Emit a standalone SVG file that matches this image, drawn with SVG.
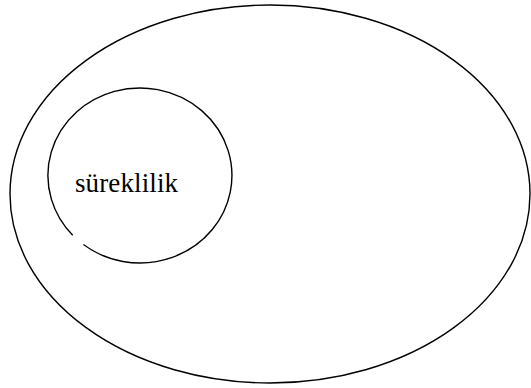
<svg xmlns="http://www.w3.org/2000/svg" width="531" height="388" viewBox="0 0 531 388">
<style>
.ln{fill:none;stroke:#000;stroke-width:1.4}
.lbl{font-family:"Liberation Serif","Times New Roman",serif;font-size:27px;fill:#000}
</style>
<rect width="531" height="388" fill="#fff"/>
<g id="outer">
<ellipse class="ln" cx="270" cy="194" rx="260" ry="189"/>
</g>
<g id="inner">
<path class="ln" d="M 72.7 235.2 A 92 87.5 0 1 1 83.4 244.5"/>
<text class="lbl" x="75" y="192" textLength="103">süreklilik</text>
</g>
<g id="connectors"></g>
</svg>
